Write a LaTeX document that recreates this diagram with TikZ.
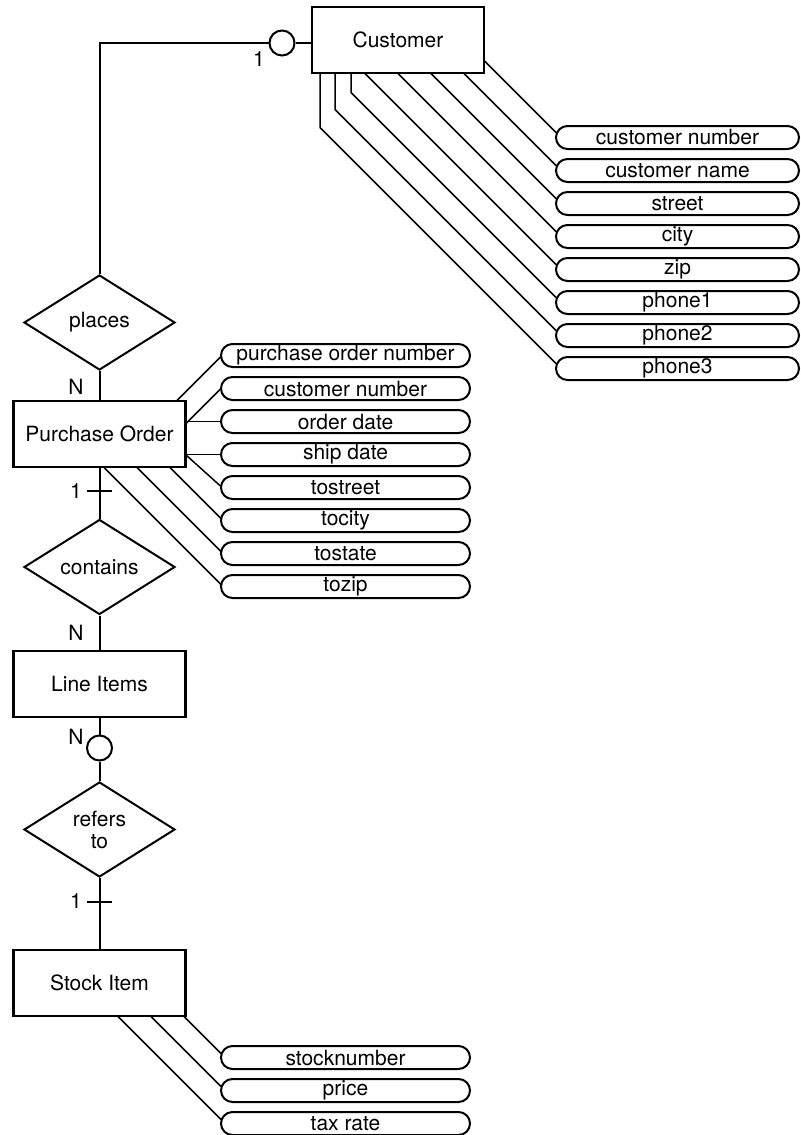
\documentclass[tikz,border=0pt]{standalone}
\usepackage{fontspec}
\setmainfont{TeX Gyre Heros}
\usetikzlibrary{shapes.geometric,shapes.misc,calc}
\pgfdeclarelayer{background}
\pgfsetlayers{background,main}

\tikzset{
  entity/.style={draw, line width=1.4pt, fill=white, minimum width=86pt, minimum height=33pt, inner sep=0pt},
  relation/.style={draw, diamond, line width=1pt, fill=white, minimum width=75.5pt, minimum height=47.5pt, inner sep=0pt, align=center},
  attr/.style={draw, rounded rectangle, line width=1pt, fill=white, minimum width=124.5pt, minimum height=11.5pt, inner sep=0pt},
  custattr/.style={attr, minimum width=121.5pt},
  optional/.style={draw, circle, line width=1pt, fill=white, minimum size=12.5pt, inner sep=0pt},
  card/.style={inner sep=0pt},
  link/.style={line width=1pt},
  attrlink/.style={line width=0.75pt}
}

\begin{document}
\begin{tikzpicture}[x=0.5pt, y=-0.5pt, font=\fontsize{10.5}{11}\selectfont]
\useasboundingbox (0,0) rectangle (801,1135);

% entities
\node[entity] (customer) at (398,40) {Customer};
\node[entity] (purchaseorder) at (99.5,434) {Purchase Order};
\node[entity] (lineitems) at (99.5,684) {Line Items};
\node[entity] (stockitem) at (99.5,983) {Stock Item};

% relationships
\node[relation] (places) at (99.5,322.5) {places};
\node[relation] (contains) at (99.5,567) {contains};
\node[relation] (refersto) at (99.5,829.5) {refers\\to};

\node[optional] (custopt) at (282,43) {};
\node[optional] (lineopt) at (99.5,748) {};

\node[card] (one1) at (259,59) {1};
\node[card] (many1) at (76,387) {N};
\node[card] (one2) at (76,491) {1};
\node[card] (many2) at (76,633) {N};
\node[card] (many3) at (76,737) {N};
\node[card] (one3) at (76,901) {1};

\coordinate (tick1) at (99.5,491);
\coordinate (tick2) at (99.5,902);

\draw[link] (custopt.east) -- (custopt.east -| customer.west);
\draw[link] (custopt.west) -| (places.north);
\draw[link] (places.south) -- (purchaseorder.north);
\draw[link] (purchaseorder.south) -- (contains.north);
\draw[link] (contains.south) -- (lineitems.north);
\draw[link] (lineitems.south) -- (lineopt.north);
\draw[link] (lineopt.south) -- (refersto.north);
\draw[link] (refersto.south) -- (stockitem.north);
\draw[link] ($(tick1)+(-12.5,0)$) -- ($(tick1)+(12.5,0)$);
\draw[link] ($(tick2)+(-12.5,0)$) -- ($(tick2)+(12.5,0)$);

% customer attributes
\node[custattr] (custnumber) at (677.5,137.5) {customer number};
\node[custattr] (custname) at (677.5,170.5) {customer name};
\node[custattr] (street) at (677.5,203.5) {street};
\node[custattr] (city) at (677.5,236.5) {city};
\node[custattr] (zip) at (677.5,269.5) {zip};
\node[custattr] (phone1) at (677.5,302.5) {phone1};
\node[custattr] (phone2) at (677.5,335.5) {phone2};
\node[custattr] (phone3) at (677.5,368.5) {phone3};

% purchase order attributes
\node[attr] (ponumber) at (345.5,355.5) {purchase order number};
\node[attr] (pocustnumber) at (345.5,388.5) {customer number};
\node[attr] (orderdate) at (345.5,421.5) {order date};
\node[attr] (shipdate) at (345.5,454.5) {ship date};
\node[attr] (tostreet) at (345.5,487.5) {tostreet};
\node[attr] (tocity) at (345.5,520.5) {tocity};
\node[attr] (tostate) at (345.5,553.5) {tostate};
\node[attr] (tozip) at (345.5,586.5) {tozip};

% stock item attributes
\node[attr] (stocknumber) at (345.5,1057.5) {stocknumber};
\node[attr] (price) at (345.5,1090.5) {price};
\node[attr] (taxrate) at (345.5,1123.5) {tax rate};

\begin{pgfonlayer}{background}
\draw[attrlink] ($(custnumber.west)+(1,-5)$) -- ++(-92.5,-92.5) |- (customer.center);
\draw[attrlink] ($(custname.west)+(1,-5)$) -- ++(-125.5,-125.5) |- (customer.center);
\draw[attrlink] ($(street.west)+(1,-5)$) -- ++(-158.5,-158.5) |- (customer.center);
\draw[attrlink] ($(city.west)+(1,-5)$) -- ++(-191.5,-191.5) |- (customer.center);
\draw[attrlink] ($(zip.west)+(1,-5)$) -- ++(-224.5,-224.5) |- (customer.center);
\draw[attrlink] ($(phone1.west)+(1,-5)$) -- ++(-205,-205) |- (customer.center);
\draw[attrlink] ($(phone2.west)+(1,-5)$) -- ++(-221,-221) |- (customer.center);
\draw[attrlink] ($(phone3.west)+(1,-5)$) -- ++(-236,-236) |- (customer.center);

\draw[attrlink] ($(ponumber.west)+(1,1)$) -- ++(-60,60);
\draw[attrlink] ($(pocustnumber.west)+(1,0)$) -- ++(-50,50);
\draw[attrlink] (orderdate.west) -- (orderdate.west -| purchaseorder.center);
\draw[attrlink] (shipdate.west) -- (shipdate.west -| purchaseorder.center);
\draw[attrlink] ($(tostreet.west)+(1,-1)$) -- ++(-50,-45);
\draw[attrlink] ($(tocity.west)+(1,-2)$) -- ++(-80,-80);
\draw[attrlink] ($(tostate.west)+(1,-2)$) -- ++(-110,-110);
\draw[attrlink] ($(tozip.west)+(1,-2)$) -- ++(-140,-140);

\draw[attrlink] ($(stocknumber.west)+(1,-4)$) -- ++(-60,-60);
\draw[attrlink] ($(price.west)+(1,-4)$) -- ++(-90,-90);
\draw[attrlink] ($(taxrate.west)+(1,-4)$) -- ++(-120,-120);
\end{pgfonlayer}
\end{tikzpicture}
\end{document}
